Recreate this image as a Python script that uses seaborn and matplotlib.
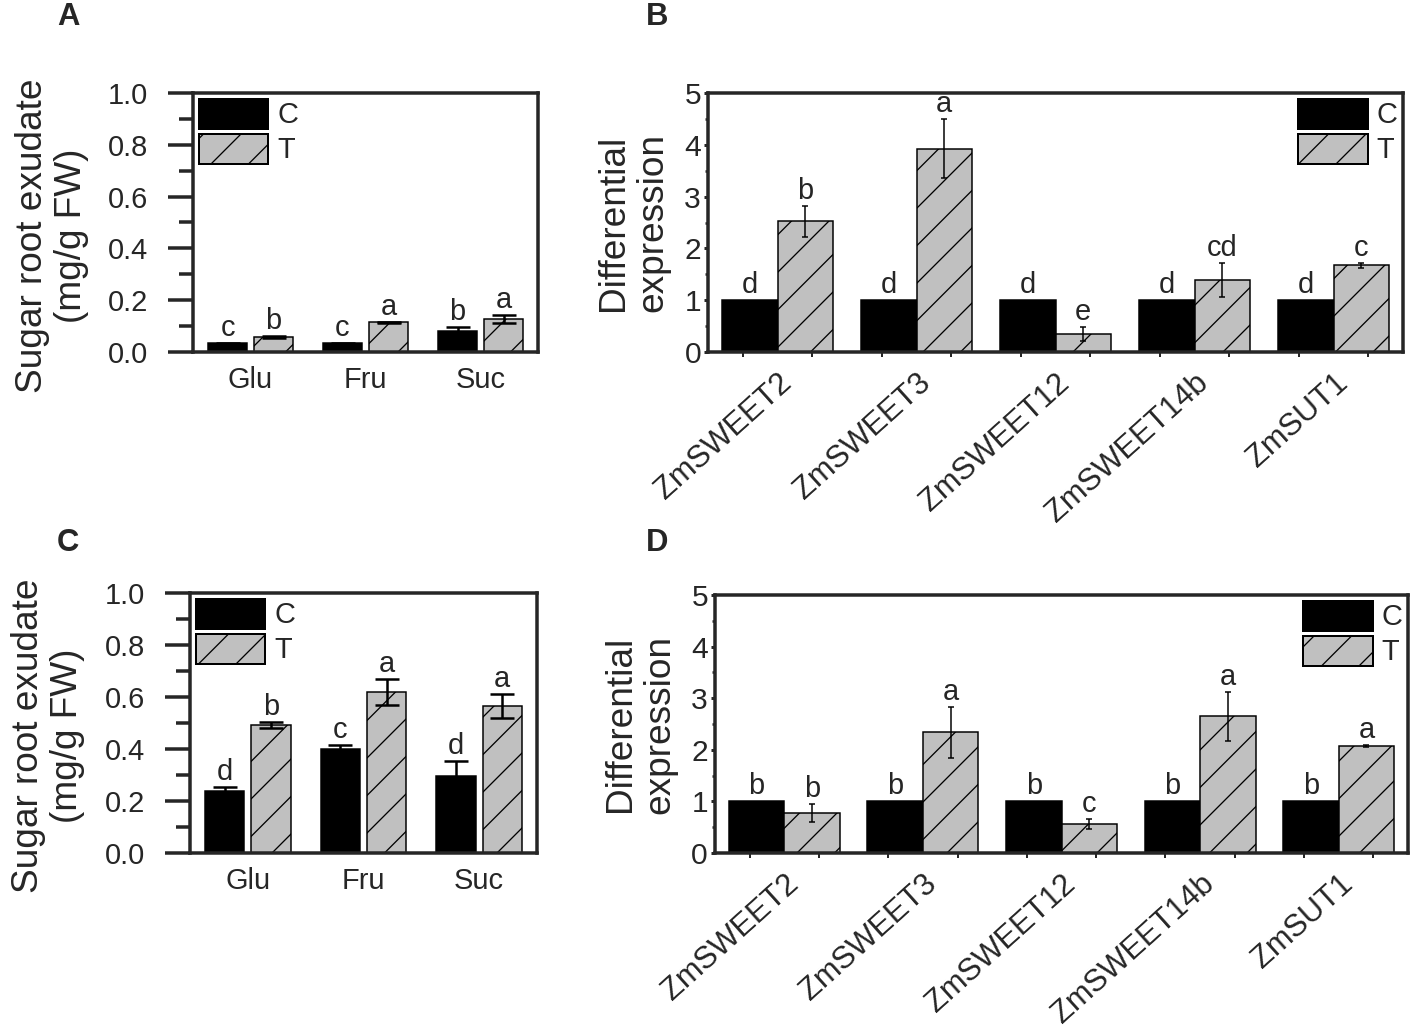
import matplotlib
matplotlib.use("Agg")
import matplotlib.pyplot as plt
from matplotlib.patches import Patch
from matplotlib.ticker import MultipleLocator, FixedLocator
import pandas as pd
import seaborn as sns

# hatch spacing follows the dpi, so draw at 225 dpi and size everything in pixels
DPI = 225
W, H = 1417, 1028


def px(v):
    return v * 72.0 / DPI


sugars = ["Glu", "Fru", "Suc"]
genes = ["ZmSWEET2", "ZmSWEET3", "ZmSWEET12", "ZmSWEET14b", "ZmSUT1"]

# panel A - sugar exudate, first experiment
a_ctrl = [0.033, 0.033, 0.082]
a_ctrl_err = [0.002, 0.002, 0.016]
a_trt = [0.057, 0.115, 0.127]
a_trt_err = [0.003, 0.002, 0.014]
a_ctrl_let = ["c", "c", "b"]
a_trt_let = ["b", "a", "a"]

# panel B - gene expression, first experiment
b_ctrl = [1.0, 1.0, 1.0, 1.0, 1.0]
b_ctrl_err = [0.0, 0.0, 0.0, 0.0, 0.0]
b_trt = [2.52, 3.92, 0.35, 1.39, 1.67]
b_trt_err = [0.30, 0.57, 0.14, 0.32, 0.05]
b_ctrl_let = ["d", "d", "d", "d", "d"]
b_trt_let = ["b", "a", "e", "cd", "c"]

# panel C - sugar exudate, second experiment
c_ctrl = [0.238, 0.400, 0.296]
c_ctrl_err = [0.016, 0.017, 0.058]
c_trt = [0.492, 0.621, 0.566]
c_trt_err = [0.010, 0.050, 0.047]
c_ctrl_let = ["d", "c", "d"]
c_trt_let = ["b", "a", "a"]

# panel D - gene expression, second experiment
d_ctrl = [1.0, 1.0, 1.0, 1.0, 1.0]
d_ctrl_err = [0.0, 0.0, 0.0, 0.0, 0.0]
d_trt = [0.78, 2.34, 0.56, 2.65, 2.08]
d_trt_err = [0.17, 0.49, 0.09, 0.47, 0.02]
d_ctrl_let = ["b", "b", "b", "b", "b"]
d_trt_let = ["b", "a", "c", "a", "a"]

GRAY = "#c0c0c0"

sns.set_style("ticks")
plt.rcParams["font.family"] = ["Liberation Sans", "DejaVu Sans"]
plt.rcParams["hatch.linewidth"] = px(1.3)
plt.rcParams["hatch.color"] = "black"


def rect(l, r, t, b):
    return [l / W, 1 - b / H, (r - l) / W, (b - t) / H]


def draw_panel(ax, cats, ctrl, ctrl_err, trt, trt_err, ctrl_let, trt_let, sugar):
    n = len(cats)
    df = pd.DataFrame({"cat": cats * 2,
                       "trt": ["C"] * n + ["T"] * n,
                       "val": ctrl + trt})
    sns.barplot(data=df, x="cat", y="val", hue="trt", hue_order=["C", "T"],
                palette={"C": "black", "T": GRAY}, saturation=1,
                edgecolor="black", linewidth=px(1.5), width=0.8,
                gap=0.15 if sugar else 0, errorbar=None, legend=False, ax=ax)
    for bar in ax.containers[1]:
        bar.set_hatch("//")

    # errorbar doubles capsize for the cap length
    if sugar:
        elw, cap = px(2.5), px(12)
    else:
        elw, cap = px(1.5), px(3)
    for cont, errs, lets in zip(ax.containers, [ctrl_err, trt_err], [ctrl_let, trt_let]):
        for bar, e, l in zip(cont, errs, lets):
            x = bar.get_x() + bar.get_width() / 2
            h = bar.get_height()
            if e > 0:
                ax.errorbar(x, h, yerr=e, fmt="none", ecolor="black",
                            elinewidth=elw, capsize=cap, capthick=elw, zorder=5)
            ax.annotate(l, (x, h + e), xytext=(0, px(7)), textcoords="offset points",
                        ha="center", va="baseline", fontsize=px(29))

    ax.set_xlim(-0.5, n - 0.5)
    ax.set_xlabel("")
    for s in ax.spines.values():
        s.set_linewidth(px(3.5))
        s.set_visible(True)

    handles = [Patch(facecolor="black", edgecolor="black", linewidth=px(2)),
               Patch(facecolor=GRAY, edgecolor="black", hatch="//", linewidth=px(2))]
    ax.legend(handles, ["C", "T"], loc="upper left" if sugar else "upper right",
              frameon=False, fontsize=px(29), handlelength=2.4, handleheight=1.2,
              labelspacing=0.15, handletextpad=0.3, borderpad=0.2, borderaxespad=0)

    if sugar:
        ax.set_ylim(0, 1.0)
        ax.yaxis.set_major_locator(MultipleLocator(0.2))
        ax.yaxis.set_minor_locator(MultipleLocator(0.1))
        ax.tick_params(axis="y", which="major", direction="out", length=px(25),
                       width=px(3.5), pad=px(20), labelsize=px(29))
        ax.tick_params(axis="y", which="minor", direction="out", length=px(14),
                       width=px(3.5))
        ax.tick_params(axis="x", which="major", length=0, pad=px(14), labelsize=px(29))
        ax.set_ylabel("Sugar root exudate\n(mg/g FW)", fontsize=px(37),
                      va="center", ha="center", linespacing=1.15)
        ax.yaxis.set_label_coords(-0.41, 0.45)
    else:
        ax.set_ylim(0, 5)
        ax.yaxis.set_major_locator(MultipleLocator(1))
        ax.yaxis.set_minor_locator(MultipleLocator(0.5))
        ax.tick_params(axis="y", which="major", direction="out", length=px(4),
                       width=px(3), pad=px(3), labelsize=px(30))
        ax.tick_params(axis="y", which="minor", direction="out", length=px(3),
                       width=px(2.5))
        ax.xaxis.set_minor_locator(FixedLocator([i + d for i in range(n) for d in (-0.25, 0.25)]))
        ax.tick_params(axis="x", which="minor", direction="out", length=px(5), width=px(2))
        ax.tick_params(axis="x", which="major", length=0, pad=px(16), labelsize=px(31))
        ax.set_xticks(range(n))
        ax.set_xticklabels(cats, rotation=42, ha="right", rotation_mode="anchor")
        ax.set_ylabel("Differential\nexpression", fontsize=px(37),
                      va="center", ha="center", linespacing=1.15)
        ax.yaxis.set_label_coords(-0.108, 0.5)


fig = plt.figure(figsize=(W / DPI, H / DPI), dpi=DPI)
ax_a = fig.add_axes(rect(193, 538, 93, 352))
ax_b = fig.add_axes(rect(708, 1403, 93, 352))
ax_c = fig.add_axes(rect(190, 537, 593, 853))
ax_d = fig.add_axes(rect(715, 1408, 595, 853))

draw_panel(ax_a, sugars, a_ctrl, a_ctrl_err, a_trt, a_trt_err, a_ctrl_let, a_trt_let, True)
draw_panel(ax_b, genes, b_ctrl, b_ctrl_err, b_trt, b_trt_err, b_ctrl_let, b_trt_let, False)
draw_panel(ax_c, sugars, c_ctrl, c_ctrl_err, c_trt, c_trt_err, c_ctrl_let, c_trt_let, True)
draw_panel(ax_d, genes, d_ctrl, d_ctrl_err, d_trt, d_trt_err, d_ctrl_let, d_trt_let, False)

for letter, x, y in [("A", 68, 17), ("B", 657, 17), ("C", 68, 543), ("D", 657, 543)]:
    fig.text(x / W, 1 - y / H, letter, fontsize=px(31), fontweight="bold",
             ha="center", va="center")

fig.savefig("out.png", dpi=DPI)
